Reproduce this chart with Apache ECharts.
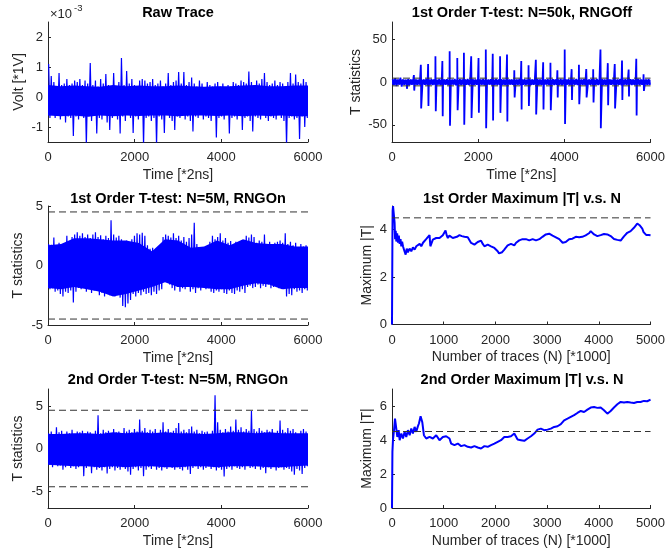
<!DOCTYPE html>
<html><head><meta charset="utf-8">
<script src="https://cdn.jsdelivr.net/npm/echarts@6/dist/echarts.min.js"></script>
<style>html,body{margin:0;padding:0;background:#fff}#c{width:668px;height:555px}</style>
</head><body><div id="c"></div>
<script>
// ---------- tick labels ----------
const timeTicks = [0, 2000, 4000, 6000];
const traceTicks = [0, 1000, 2000, 3000, 4000, 5000];
const voltTicks = [-1, 0, 1, 2];
const offTicks = [-50, 0, 50];
const on1Ticks = [-5, 0, 5];
const on2Ticks = [-5, 0, 5];
const max1Ticks = [0, 2, 4];
const max2Ticks = [0, 2, 4, 6];
const threshold = 4.5;
const binWidth = 60; // samples per envelope bin (6000 / 100)

// ---------- dense body of each noisy trace (sampled every 300 samples) ----------
const coreX = [0,300,600,900,1200,1500,1800,2100,2400,2700,3000,3300,3600,3900,4200,4500,4800,5100,5400,5700,6000];
const rawCoreHi = [0.4,0.36,0.38,0.36,0.34,0.4,0.36,0.38,0.36,0.36,0.38,0.36,0.34,0.36,0.36,0.38,0.4,0.36,0.36,0.38,0.38];
const rawCoreLo = [-0.62,-0.64,-0.62,-0.66,-0.62,-0.64,-0.62,-0.63,-0.62,-0.62,-0.64,-0.62,-0.62,-0.63,-0.62,-0.64,-0.62,-0.63,-0.62,-0.64,-0.64];
const offCoreHi = [2.8,2.7,2.6,2.7,2.6,2.7,2.6,2.7,2.6,2.7,2.6,2.7,2.6,2.7,2.6,2.7,2.6,2.7,2.6,2.7,2.7];
const offCoreLo = [-3.0,-2.9,-2.8,-2.9,-2.8,-2.9,-2.8,-2.9,-2.8,-2.9,-2.8,-2.9,-2.8,-2.9,-2.8,-2.9,-2.8,-2.9,-2.8,-2.9,-2.9];
const on1CoreHi = [1.7,1.8,2.3,2.3,2.2,2.1,2.1,1.9,1.2,2.2,2.1,1.5,1.6,2.1,1.7,2.2,1.9,1.8,1.8,1.6,1.6];
const on1CoreLo = [-1.9,-2.0,-1.8,-2.0,-2.2,-2.6,-2.4,-2.1,-1.8,-1.4,-1.8,-1.8,-1.9,-2.0,-2.0,-1.7,-1.5,-1.6,-2.0,-1.9,-1.9];
const on2CoreHi = [1.7,1.7,1.8,1.8,1.7,1.9,1.8,1.9,1.8,1.9,1.8,1.8,1.7,1.8,1.9,1.9,1.8,1.9,1.8,1.8,1.8];
const on2CoreLo = [-1.9,-2.0,-2.1,-2.1,-2.2,-2.1,-2.2,-2.1,-2.1,-2.2,-2.2,-2.1,-2.1,-2.2,-2.1,-2.1,-2.1,-2.2,-2.2,-2.1,-2.0];

// ---------- Raw trace envelope (x1e-3 V), per bin ----------
const rawHi = [1.1,0.7,0.5,0.35,0.8,0.4,0.45,0.6,0.4,0.45,
 0.55,0.5,0.6,0.4,0.55,0.45,1.13,0.4,0.55,0.35,
 0.6,0.45,0.77,0.4,0.35,0.8,0.3,0.5,1.3,0.4,
 0.87,0.45,0.6,0.4,0.3,0.55,0.6,0.55,0.45,0.5,
 0.6,0.4,0.45,0.55,0.35,0.45,0.8,0.4,0.5,0.55,
 0.83,0.45,0.83,0.4,0.5,0.65,0.45,0.35,0.55,0.45,
 0.3,0.5,0.4,0.35,0.45,0.5,0.35,0.45,0.3,0.4,
 0.35,0.5,0.45,0.4,0.55,0.5,0.45,0.85,0.5,0.4,
 0.55,0.45,0.6,0.8,0.5,0.4,0.45,0.55,0.4,0.5,
 0.45,0.35,0.5,0.8,0.45,0.75,0.5,0.45,0.6,0.5];
const rawLo = [-0.7,-0.6,-0.7,-0.55,-0.75,-0.6,-0.85,-0.65,-0.7,-1.3,
 -0.65,-0.75,-0.6,-0.7,-1.6,-0.65,-0.8,-0.6,-1.22,-0.7,
 -0.75,-0.6,-0.85,-1.1,-0.7,-0.6,-0.75,-1.22,-0.65,-0.8,
 -0.6,-0.7,-1.2,-0.65,-0.75,-0.6,-1.6,-0.7,-0.65,-0.8,
 -0.7,-1.6,-0.65,-0.75,-1.2,-0.6,-0.7,-0.8,-1.1,-0.65,
 -0.7,-0.6,-0.75,-0.65,-0.8,-1.15,-0.65,-0.7,-0.6,-0.75,
 -0.65,-0.7,-0.8,-0.6,-1.35,-0.7,-0.65,-0.75,-0.6,-1.22,
 -0.7,-0.65,-0.75,-0.6,-1.1,-0.7,-0.65,-0.8,-1.15,-0.65,
 -0.7,-0.75,-0.6,-0.7,-0.8,-0.65,-0.7,-0.75,-0.6,-0.7,
 -0.8,-1.6,-0.7,-0.65,-0.75,-0.7,-1.4,-0.65,-1.0,-0.7];

// ---------- 1st order, N=50k, RNG off: base band + leakage spikes ----------
const offHi = [3.2,4.5,2.8,5.2,3.0,2.7,3.5,2.9,3.8,3.1,
 2.6,3.4,3.0,3.6,2.8,3.3,3.0,2.7,3.5,3.1,
 2.9,3.4,3.2,2.8,3.6,3.0,3.3,2.9,3.1,3.5,
 2.8,3.2,3.0,3.4,2.9,3.6,3.1,2.8,3.3,3.0,
 3.5,2.9,3.2,3.0,3.4,2.8,3.1,3.3,2.9,3.6,
 3.0,3.2,2.8,3.4,3.1,2.9,3.5,3.0,3.3,2.8,
 3.2,3.0,3.4,2.9,3.1,3.6,3.0,2.8,3.3,3.1,
 2.9,3.5,3.2,3.0,3.4,2.8,3.1,3.3,3.0,3.5,
 2.9,3.2,3.0,3.4,3.1,2.8,3.3,3.0,3.6,2.9,
 3.2,3.1,3.4,3.0,2.8,3.5,3.1,3.3,3.0,3.2];
const offLo = [-3.5,-4.8,-3.0,-5.5,-3.2,-3.0,-3.8,-3.1,-4.2,-3.3,
 -2.9,-3.6,-3.2,-3.8,-3.0,-3.5,-3.2,-2.9,-3.7,-3.3,
 -3.1,-3.6,-3.4,-3.0,-3.8,-3.2,-3.5,-3.1,-3.3,-3.7,
 -3.0,-3.4,-3.2,-3.6,-3.1,-3.8,-3.3,-3.0,-3.5,-3.2,
 -3.7,-3.1,-3.4,-3.2,-3.6,-3.0,-3.3,-3.5,-3.1,-3.8,
 -3.2,-3.4,-3.0,-3.6,-3.3,-3.1,-3.7,-3.2,-3.5,-3.0,
 -3.4,-3.2,-3.6,-3.1,-3.3,-3.8,-3.2,-3.0,-3.5,-3.3,
 -3.1,-3.7,-3.4,-3.2,-3.6,-3.0,-3.3,-3.5,-3.2,-3.7,
 -3.1,-3.4,-3.2,-3.6,-3.3,-3.0,-3.5,-3.2,-3.8,-3.1,
 -3.4,-3.3,-3.6,-3.2,-3.0,-3.7,-3.3,-3.5,-3.2,-3.4];
const spikeX = [338,508,669,838,1008,1169,1338,1515,1669,1838,2008,2177,2338,2508,2669,2838,3000,
 3169,3338,3508,3677,3838,4008,4169,4338,4508,4669,4838,5008,5169,5338,5492,5669,5838];
const spikeHi = [5,8,20,21,30,24.5,36,28,34,30,28,38,33,30,32,13.6,24.5,
 19.5,26,23,22.5,13.6,38,15,20,15,15,38,22,21,25,14.5,27,9];
const spikeLo = [-8,-10,-31,-28,-34,-40,-51,-33,-50,-42,-36,-54,-45,-36,-46,-18,-32,
 -28,-38,-32,-33,-18,-49,-21,-26,-18,-24,-54,-27,-31,-21,-17,-39,-10.5];

// ---------- 1st order, N=5M, RNG on ----------
const on1Hi = [1.8,1.75,2.35,1.6,1.9,1.5,1.8,2.5,1.8,2.4,
 2.6,2.8,2.5,2.7,2.4,2.6,2.3,2.6,2.8,2.4,
 2.55,2.2,2.5,2.3,3.8,2.6,2.35,2.5,2.2,1.9,
 2.1,1.85,2.2,2.5,2.7,2.6,2.75,2.5,1.7,1.4,
 1.5,1.1,1.3,0.95,2.4,2.6,2.5,2.35,2.7,2.3,
 2.5,2.1,2.4,2.0,2.3,2.6,3.6,1.8,1.4,1.2,
 1.5,1.1,2.0,2.5,2.2,2.4,2.7,2.1,2.3,1.9,
 2.05,1.7,2.0,1.65,1.9,2.1,2.5,2.35,2.6,2.4,
 1.9,2.1,2.0,2.6,1.8,2.0,1.7,1.9,2.0,2.1,
 1.9,2.7,1.8,2.0,1.7,1.9,1.5,1.8,1.6,1.7];
const on1Lo = [-2.0,-1.9,-2.2,-2.1,-2.4,-2.6,-2.2,-2.3,-2.1,-3.1,
 -2.2,-1.9,-2.0,-1.8,-2.2,-2.0,-2.3,-2.1,-2.0,-2.5,
 -2.3,-2.6,-2.3,-2.5,-2.4,-2.6,-2.3,-2.7,-3.4,-3.5,
 -3.2,-2.9,-2.4,-2.6,-2.3,-2.5,-2.2,-2.4,-2.3,-2.5,
 -2.2,-2.4,-2.1,-2.0,-1.2,-1.0,-1.6,-1.9,-2.1,-1.8,
 -2.2,-1.9,-2.0,-1.8,-2.2,-2.0,-2.3,-1.9,-2.1,-1.8,
 -2.0,-1.9,-2.2,-2.3,-2.1,-2.2,-2.0,-2.3,-2.4,-2.1,
 -2.3,-2.4,-2.1,-2.2,-2.0,-2.3,-1.8,-1.7,-1.9,-1.8,
 -1.6,-1.9,-1.7,-1.8,-1.6,-1.9,-1.8,-1.7,-1.9,-1.8,
 -2.0,-2.6,-2.4,-2.5,-2.0,-2.2,-2.1,-2.3,-2.0,-2.1];

// ---------- 2nd order, N=5M, RNG on ----------
const on2Hi = [1.8,2.0,1.7,2.5,1.9,2.1,1.6,2.0,1.8,2.2,
 1.7,2.0,1.9,2.1,1.8,2.0,1.9,1.7,2.1,3.9,
 1.8,2.2,1.9,2.1,1.7,2.3,1.9,2.0,1.8,2.4,
 2.0,2.2,1.9,2.3,2.0,3.4,2.1,2.4,1.9,2.2,
 2.0,2.3,1.8,2.2,3.1,2.0,2.3,1.9,2.1,2.4,
 3.0,2.0,2.2,1.9,2.3,2.6,2.0,2.2,1.8,2.1,
 1.9,2.0,1.7,2.1,6.25,3.1,2.2,1.9,2.3,2.0,
 2.6,2.1,3.4,2.2,2.5,2.0,2.3,2.1,4.4,2.3,
 2.0,2.4,2.1,1.9,2.2,2.0,2.3,1.8,2.1,3.3,
 2.2,1.9,2.4,2.1,2.3,1.9,1.7,2.1,2.3,2.0];
const on2Lo = [-1.9,-2.2,-1.8,-2.1,-2.0,-2.5,-2.2,-1.9,-2.3,-2.1,
 -2.4,-2.2,-2.0,-3.25,-2.3,-2.1,-2.9,-2.2,-2.5,-2.3,
 -2.6,-2.2,-2.95,-2.4,-2.2,-2.6,-2.3,-2.5,-2.2,-2.4,
 -2.7,-3.1,-2.4,-2.2,-2.6,-2.3,-3.25,-2.5,-2.2,-2.4,
 -2.1,-2.5,-2.3,-2.6,-2.2,-2.4,-2.1,-2.3,-2.5,-2.2,
 -2.4,-2.6,-2.2,-2.5,-3.0,-2.3,-2.1,-2.4,-2.2,-2.5,
 -2.3,-2.1,-2.4,-2.2,-2.6,-2.3,-2.5,-3.3,-2.4,-2.2,
 -2.5,-2.1,-2.3,-2.4,-2.2,-2.5,-2.0,-2.3,-2.2,-2.4,
 -2.1,-2.5,-2.3,-2.9,-2.2,-2.4,-2.1,-2.6,-2.3,-2.2,
 -2.5,-2.3,-2.4,-2.7,-3.1,-2.4,-2.6,-3.0,-2.3,-2.1];

// ---------- Maximum |T| vs N (N in *1000 traces) ----------
const n1 = [0,8,12,20,35,50,60,72,84,100,116,132,148,165,180,196,212,240,264,285,308,340,373,405,437,470,501,535,566,600,
 630,660,694,726,742,758,790,820,855,890,919,950,983,1010,1035,1060,1080,1110,1144,1175,1208,1255,1305,1350,1401,1435,1465,1500,1530,1560,
 1594,1625,1658,1690,1722,1755,1787,1820,1851,1885,1915,1950,1980,2010,2044,2070,2095,2130,2172,2205,2237,2270,2301,2335,2365,2400,2429,2460,2494,2525,
 2558,2590,2622,2655,2687,2720,2751,2785,2815,2850,2879,2910,2944,2975,3008,3040,3072,3105,3136,3170,3201,3235,3265,3300,3329,3360,3394,3425,3458,3490,
 3522,3555,3586,3620,3651,3680,3715,3745,3779,3810,3843,3875,3908,3940,3972,4005,4036,4070,4100,4130,4165,4195,4229,4260,4293,4325,4358,4390,4422,4455,
 4486,4520,4550,4580,4615,4645,4679,4710,4743,4765,4788,4815,4840,4865,4891,4915,4936,4965,5000];
const max1 = [0,3.6,4.8,5.0,5.0,4.3,3.6,3.95,3.5,3.85,3.45,3.75,3.4,3.6,3.3,3.5,3.3,3.1,2.95,3.2,3.05,3.2,3.09,3.25,3.16,3.3,3.26,3.4,3.3,3.45,
 3.48,3.6,3.68,3.77,3.3,3.3,3.58,3.6,3.65,3.6,3.65,3.7,3.77,3.8,3.97,3.75,3.65,3.75,3.73,3.65,3.65,3.7,3.77,3.73,3.7,3.75,3.68,3.6,3.44,3.4,
 3.37,3.42,3.48,3.5,3.54,3.4,3.3,3.38,3.37,3.34,3.3,3.26,3.23,3.15,3.09,3.0,2.97,3.05,3.16,3.25,3.34,3.4,3.4,3.35,3.34,3.45,3.44,3.55,3.58,3.6,
 3.63,3.6,3.57,3.55,3.54,3.6,3.58,3.55,3.54,3.6,3.65,3.7,3.73,3.8,3.82,3.83,3.8,3.75,3.7,3.68,3.65,3.6,3.54,3.45,3.4,3.48,3.54,3.6,3.65,3.62,
 3.68,3.7,3.73,3.68,3.65,3.7,3.73,3.76,3.8,3.85,3.94,3.88,3.8,3.78,3.73,3.76,3.77,3.8,3.82,3.8,3.8,3.75,3.73,3.65,3.61,3.58,3.57,3.56,3.54,3.62,
 3.72,3.8,3.87,3.9,3.94,4.0,4.08,4.15,4.26,4.22,4.19,4.12,4.05,3.9,3.82,3.78,3.8,3.78,3.77];

const n2 = [0,8,19,39,58,75,84,103,129,148,180,212,244,276,308,341,373,405,437,469,500,521,553,570,585,617,662,726,790,855,
 919,983,1048,1112,1144,1208,1272,1337,1401,1465,1530,1594,1658,1722,1787,1851,1915,1980,2044,2108,2172,2237,2301,2365,2429,2494,2558,2622,2687,2751,
 2815,2879,2944,3008,3072,3136,3201,3265,3329,3394,3458,3522,3586,3651,3715,3779,3843,3908,3972,4036,4100,4165,4229,4293,4358,4422,4486,4550,4615,4679,
 4743,4807,4872,4936,5000];
const max2 = [0,3.3,4.0,4.58,5.26,5.2,5.16,4.18,4.58,3.99,4.38,4.09,4.48,4.18,4.58,4.28,4.67,4.38,4.77,4.48,4.8,4.97,5.4,5.3,5.06,4.28,4.09,4.18,4.09,4.28,
 3.99,4.18,4.22,4.09,3.79,3.7,3.79,3.64,3.7,3.6,3.56,3.64,3.56,3.5,3.64,3.6,3.7,3.79,3.89,3.99,4.18,4.18,4.22,4.38,4.03,3.99,3.95,4.09,4.22,4.38,
 4.61,4.67,4.58,4.61,4.67,4.77,4.81,4.93,5.16,5.26,5.36,5.46,5.59,5.71,5.65,5.79,5.91,5.94,5.89,5.91,5.75,5.55,5.71,5.91,6.1,6.24,6.2,6.24,6.2,6.18,
 6.24,6.24,6.3,6.28,6.37];

// ---------- build ----------
const F = '"Liberation Sans", Arial, Helvetica, sans-serif';
const INK = '#262626';
const BLUE = '#0000ff';

function envelope(hi, lo) {
  const out = [];
  for (let i = 0; i < hi.length; i++) {
    out.push([i * binWidth + binWidth * 0.25, hi[i]]);
    out.push([i * binWidth + binWidth * 0.75, lo[i]]);
  }
  return out;
}
function withSpikes(base, xs, his, los) {
  const pts = base.slice();
  for (let i = 0; i < xs.length; i++) {
    pts.push([xs[i], his[i]]);
    pts.push([xs[i] + 8, los[i]]);
  }
  pts.sort((a, b) => a[0] - b[0]);
  return pts;
}
function pairs(xs, ys) { return xs.map((x, i) => [x, ys[i]]); }

const grids = [
  {left: 48, top: 22, width: 260, height: 120},
  {left: 392, top: 22, width: 260, height: 120},
  {left: 48, top: 206, width: 260, height: 119},
  {left: 392, top: 206, width: 259.5, height: 118.5},
  {left: 48, top: 389, width: 260, height: 119},
  {left: 392, top: 389, width: 259.5, height: 119}
];
const plain = v => String(v);

function xAx(gi, max, ticks, name) {
  return {
    type: 'value', gridIndex: gi, min: 0, max: max, name: name,
    nameLocation: 'middle', nameGap: 26,
    nameTextStyle: {fontSize: 14, color: INK, fontFamily: F},
    axisLine: {show: true, onZero: false, lineStyle: {color: INK, width: 1}},
    axisTick: {show: true, inside: true, length: 3, customValues: ticks, lineStyle: {color: INK}},
    axisLabel: {customValues: ticks, fontSize: 13, color: INK, margin: 9, fontFamily: F, formatter: plain},
    splitLine: {show: false}
  };
}
function yAx(gi, min, max, ticks, name, gap) {
  return {
    type: 'value', gridIndex: gi, min: min, max: max, name: name,
    nameLocation: 'middle', nameGap: gap,
    nameTextStyle: {fontSize: 14, color: INK, fontFamily: F},
    axisLine: {show: true, onZero: false, lineStyle: {color: INK, width: 1}},
    axisTick: {show: true, inside: true, length: 3, customValues: ticks, lineStyle: {color: INK}},
    axisLabel: {customValues: ticks, fontSize: 13, color: INK, margin: 5, fontFamily: F, formatter: plain},
    splitLine: {show: false}
  };
}
function trace(i, data, w) {
  return {type: 'line', xAxisIndex: i, yAxisIndex: i, data: data, symbol: 'none',
    lineStyle: {color: BLUE, width: w}, clip: true, animation: false, z: 2};
}
// dense body of a noisy trace: polygon between hi and lo, placed through the axes
function body(i, xs, hi, lo) {
  return {
    type: 'custom', xAxisIndex: i, yAxisIndex: i, data: [[xs[0], lo[0]]], clip: true,
    animation: false, z: 1, silent: true,
    renderItem: function (params, api) {
      const pts = [];
      for (let k = 0; k < xs.length; k++) pts.push(api.coord([xs[k], hi[k]]));
      for (let k = xs.length - 1; k >= 0; k--) pts.push(api.coord([xs[k], lo[k]]));
      return {type: 'polygon', shape: {points: pts}, style: {fill: BLUE}};
    }
  };
}
function dashed(i, xmax, y) {
  return {type: 'line', xAxisIndex: i, yAxisIndex: i, data: [[0, y], [xmax, y]], symbol: 'none',
    lineStyle: {color: '#333333', width: 1, type: [7, 4]}, clip: true, animation: false, z: 3};
}
function ttl(text, cx, top) {
  return {text: text, left: cx, top: top, textAlign: 'center', padding: 0,
    textStyle: {fontSize: 14.5, fontWeight: 'bold', color: '#000', fontFamily: F}};
}

const option = {
  backgroundColor: '#fff',
  animation: false,
  title: [
    ttl('Raw Trace', 178, 5),
    ttl('1st Order T-test: N=50k, RNGOff', 522, 5),
    ttl('1st Order T-test: N=5M, RNGOn', 178, 191),
    ttl('1st Order Maximum |T| v.s. N', 522, 191),
    ttl('2nd Order T-test: N=5M, RNGOn', 178, 372),
    ttl('2nd Order Maximum |T| v.s. N', 522, 372),
    {text: '\u00d710', left: 50, top: 8, padding: 0, textStyle: {fontSize: 13, fontWeight: 'normal', color: INK, fontFamily: F}},
    {text: '-3', left: 74, top: 3, padding: 0, textStyle: {fontSize: 9.5, fontWeight: 'normal', color: INK, fontFamily: F}}
  ],
  grid: grids,
  xAxis: [
    xAx(0, 6000, timeTicks, 'Time [*2ns]'),
    xAx(1, 6000, timeTicks, 'Time [*2ns]'),
    xAx(2, 6000, timeTicks, 'Time [*2ns]'),
    xAx(3, 5000, traceTicks, 'Number of traces (N) [*1000]'),
    xAx(4, 6000, timeTicks, 'Time [*2ns]'),
    xAx(5, 5000, traceTicks, 'Number of traces (N) [*1000]')
  ],
  yAxis: [
    yAx(0, -1.5, 2.5, voltTicks, 'Volt [*1V]', 22),
    yAx(1, -70, 70, offTicks, 'T statistics', 29),
    yAx(2, -5, 5, on1Ticks, 'T statistics', 23),
    yAx(3, 0, 5, max1Ticks, 'Maximum |T|', 18),
    yAx(4, -7, 7, on2Ticks, 'T statistics', 23),
    yAx(5, 0, 7, max2Ticks, 'Maximum |T|', 18)
  ],
  series: [
    body(0, coreX, rawCoreHi, rawCoreLo),
    trace(0, envelope(rawHi, rawLo), 1.2),
    body(1, coreX, offCoreHi, offCoreLo),
    trace(1, withSpikes(envelope(offHi, offLo), spikeX, spikeHi, spikeLo), 1.8),
    dashed(1, 6000, threshold), dashed(1, 6000, -threshold),
    body(2, coreX, on1CoreHi, on1CoreLo),
    trace(2, envelope(on1Hi, on1Lo), 1.2),
    dashed(2, 6000, threshold), dashed(2, 6000, -threshold),
    trace(3, pairs(n1, max1), 2),
    dashed(3, 5000, threshold),
    body(4, coreX, on2CoreHi, on2CoreLo),
    trace(4, envelope(on2Hi, on2Lo), 1.2),
    dashed(4, 6000, threshold), dashed(4, 6000, -threshold),
    trace(5, pairs(n2, max2), 2),
    dashed(5, 5000, threshold)
  ]
};
const chart = echarts.init(document.getElementById('c'), null, {renderer: 'canvas'});
chart.setOption(option);
</script>
</body></html>
